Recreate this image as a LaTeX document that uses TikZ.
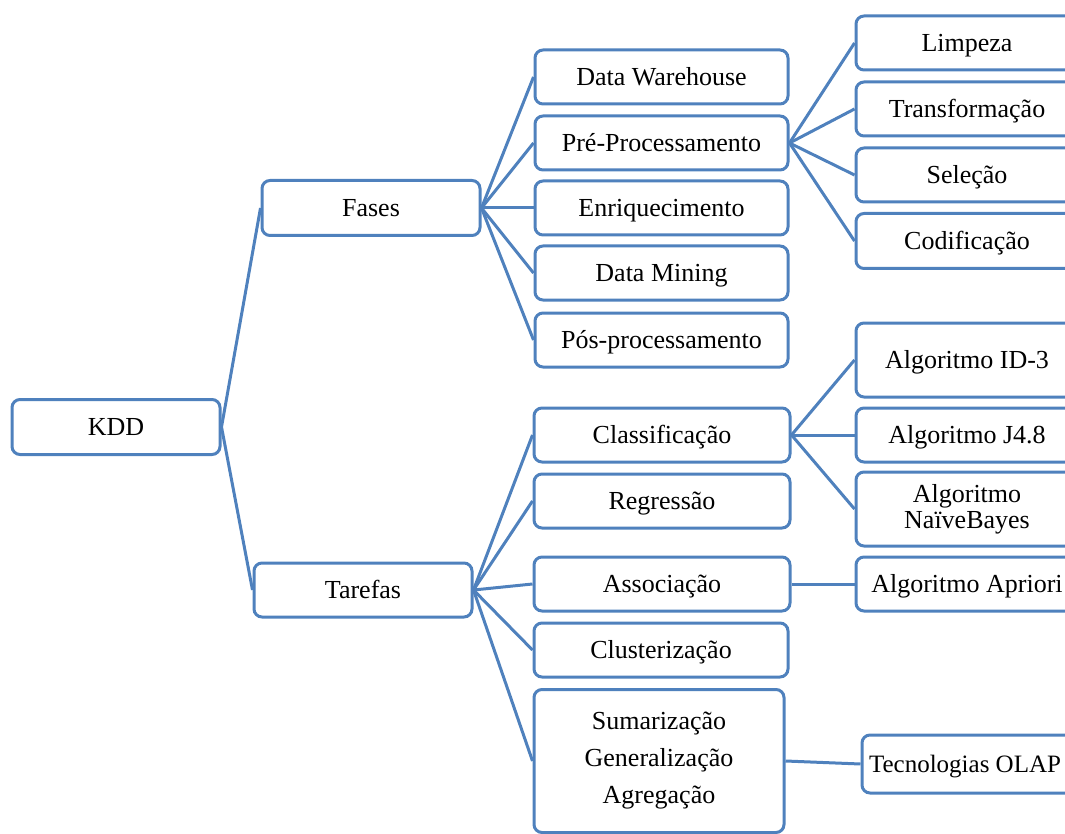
\documentclass[tikz,border=0pt]{standalone}
\usepackage{fontspec}
\setmainfont{Liberation Serif}
\definecolor{edgeblue}{HTML}{4F81BD}
\begin{document}
\begin{tikzpicture}[x=1pt,y=-1pt,
  box/.style={draw=edgeblue, line width=3pt, rounded corners=8pt, fill=white,
    font=\fontsize{26}{30}\selectfont, align=center, inner sep=0pt},
  sbox/.style={box, text height=19pt, text depth=2pt},
  link/.style={draw=edgeblue, line width=3pt}]
\useasboundingbox (0,0) rectangle (1065,834);

% root and first level
\node[sbox, minimum width=208pt, minimum height=55pt] (kdd) at (116,427) {KDD};
\node[sbox, minimum width=218pt, minimum height=55pt] (fases) at (371,208) {Fases};
\node[sbox, minimum width=218pt, minimum height=54pt] (tarefas) at (363,590) {Tarefas};

% phases
\node[sbox, minimum width=253pt, minimum height=54pt] (dw) at (661.5,77) {Data Warehouse};
\node[sbox, minimum width=253pt, minimum height=54pt] (pre) at (661.5,143) {Pré-Processamento};
\node[sbox, minimum width=253pt, minimum height=54pt] (enr) at (661.5,208) {Enriquecimento};
\node[sbox, minimum width=253pt, minimum height=54pt] (dm) at (661.5,273) {Data Mining};
\node[sbox, minimum width=253pt, minimum height=54pt] (pos) at (661.5,340) {Pós-processamento};

% pre-processing steps
\node[sbox, minimum width=222pt, minimum height=54pt] (limp) at (967,43) {Limpeza};
\node[sbox, minimum width=222pt, minimum height=54pt] (transf) at (967,109) {Transformação};
\node[sbox, minimum width=222pt, minimum height=54pt] (sel) at (967,175) {Seleção};
\node[sbox, minimum width=222pt, minimum height=55pt] (cod) at (967,241) {Codificação};

% tasks
\node[sbox, minimum width=256pt, minimum height=54pt] (clas) at (662,435) {Classificação};
\node[sbox, minimum width=256pt, minimum height=54pt] (regr) at (662,501) {Regressão};
\node[sbox, minimum width=256pt, minimum height=54pt] (assoc) at (662,584) {Associação};
\node[sbox, minimum width=254pt, minimum height=54pt] (clus) at (661,650) {Clusterização};
\node[box, minimum width=250pt, minimum height=143pt,
  font=\fontsize{26}{37}\selectfont] (sum) at (659,761) {Sumarização\\Generalização\\Agregação};

% algorithms and technologies
\node[sbox, minimum width=222pt, minimum height=74pt] (id3) at (967,360) {Algoritmo ID-3};
\node[sbox, minimum width=222pt, minimum height=54pt] (j48) at (967,435) {Algoritmo J4.8};
\node[box, minimum width=222pt, minimum height=74pt,
  font=\fontsize{26}{26}\selectfont] (nb) at (967,509) {Algoritmo\\NaïveBayes};
\node[sbox, minimum width=222pt, minimum height=54pt] (apri) at (967,584) {Algoritmo Apriori};
\node[sbox, minimum width=212pt, minimum height=58pt] (olap) at (968,764) {};
\node[font=\fontsize{25}{30}\selectfont, inner sep=0pt, text height=19pt, text depth=2pt]
  (olaptext) at (965,764) {Tecnologias OLAP};

% connectors
\draw[link] (kdd.east) -- (fases.west);
\draw[link] (kdd.east) -- (tarefas.west);
\foreach \c in {dw,pre,enr,dm,pos} \draw[link] (fases.east) -- (\c.west);
\foreach \c in {limp,transf,sel,cod} \draw[link] (pre.east) -- (\c.west);
\foreach \c in {clas,regr,assoc,clus,sum} \draw[link] (tarefas.east) -- (\c.west);
\foreach \c in {id3,j48,nb} \draw[link] (clas.east) -- (\c.west);
\draw[link] (assoc.east) -- (apri.west);
\draw[link] (sum.east) -- (olap.west);
\end{tikzpicture}
\end{document}
